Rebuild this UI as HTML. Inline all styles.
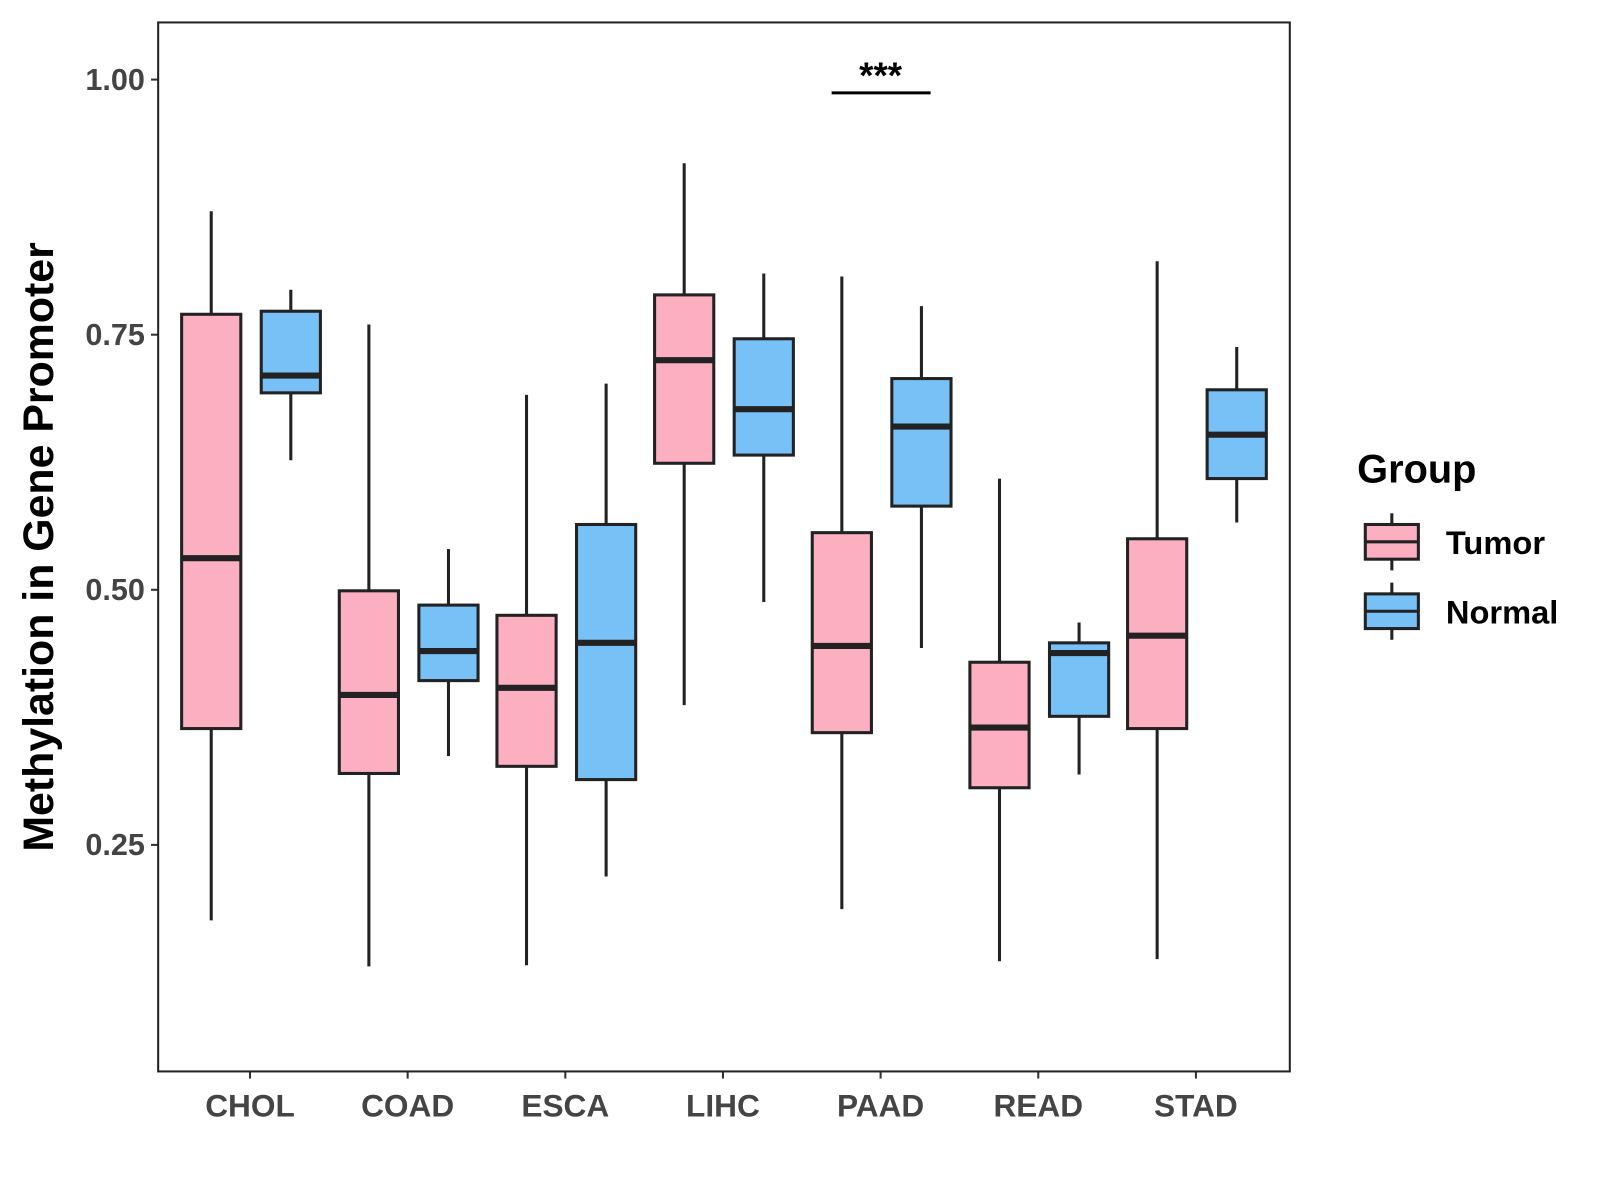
<!DOCTYPE html>
<html><head><meta charset="utf-8"><style>
html,body{margin:0;padding:0;background:#fff}
svg{display:block;font-family:"Liberation Sans",Arial,sans-serif}
</style></head><body>
<svg id="chart" width="1600" height="1200" viewBox="0 0 1568 1176">
<rect x="0" y="0" width="1568" height="1176" fill="#fff"/>
<g id="plot"></g>
<rect x="155" y="22" width="1109" height="1028" fill="none" stroke="#222" stroke-width="2"/>
<text transform="translate(52,536) rotate(-90)" text-anchor="middle" font-size="42" font-weight="bold" fill="#000">Methylation in Gene Promoter</text>
<g>
<line x1="815" y1="91" x2="912" y2="91" stroke="#000" stroke-width="3"/>
<text x="863" y="86" text-anchor="middle" font-size="36" font-weight="bold">***</text>
</g>
<g>
<text x="1330" y="473" font-size="39" font-weight="bold">Group</text>
<g>
<line x1="1364" y1="503" x2="1364" y2="559" stroke="#222" stroke-width="3"/>
<rect x="1338" y="514" width="52" height="34" fill="#FBAFC1" stroke="#222" stroke-width="3"/>
<line x1="1338" y1="531" x2="1390" y2="531" stroke="#222" stroke-width="3"/>
<text x="1417" y="543" font-size="32" font-weight="bold">Tumor</text></g>
<g>
<line x1="1364" y1="571" x2="1364" y2="627" stroke="#222" stroke-width="3"/>
<rect x="1338" y="582" width="52" height="34" fill="#77C1F6" stroke="#222" stroke-width="3"/>
<line x1="1338" y1="599" x2="1390" y2="599" stroke="#222" stroke-width="3"/>
<text x="1417" y="611" font-size="32" font-weight="bold">Normal</text></g>
</g>
</svg>
<script>
const categories=["CHOL","COAD","ESCA","LIHC","PAAD","READ","STAD"];
// [lower whisker, q1, median, q3, upper whisker]
const tumorStats=[[0.176,0.364,0.531,0.770,0.871],[0.131,0.320,0.397,0.499,0.760],[0.132,0.327,0.404,0.475,0.691],[0.387,0.624,0.725,0.789,0.918],[0.187,0.360,0.445,0.556,0.807],[0.136,0.306,0.365,0.429,0.609],[0.138,0.364,0.455,0.550,0.822]];
const normalStats=[[0.627,0.693,0.710,0.773,0.794],[0.337,0.411,0.440,0.485,0.540],[0.219,0.314,0.448,0.564,0.702],[0.488,0.632,0.677,0.746,0.810],[0.443,0.582,0.660,0.707,0.778],[0.319,0.376,0.438,0.448,0.468],[0.566,0.609,0.652,0.696,0.738]];
const yTicks=[0.25,0.5,0.75,1.0];
const yTickLabels=["0.25","0.50","0.75","1.00"];
const NS="http://www.w3.org/2000/svg";
const g=document.getElementById('plot');
function y(v){return 78+(1-v)*1000;}
function x(i){return 245+i*154.5;}
function mk(t,a){const e=document.createElementNS(NS,t);for(const k in a)e.setAttribute(k,a[k]);g.appendChild(e);return e;}
yTicks.forEach((v,i)=>{
 const l=mk('line',{x1:148,x2:155,y1:y(v),y2:y(v),stroke:'#333','stroke-width':2});
 
 
 const t=mk('text',{x:142,y:y(v)+10,'text-anchor':'end','font-size':30,'font-weight':'bold',fill:'#444'});
 t.textContent=yTickLabels[i];
 
 
});
categories.forEach((c,i)=>{
 const l=mk('line',{x1:x(i),x2:x(i),y1:1050,y2:1057,stroke:'#333','stroke-width':2});
 
 
 const t=mk('text',{x:x(i),y:1094,'text-anchor':'middle','font-size':31,'font-weight':'bold',fill:'#444'});
 t.textContent=c;
 
 
});
function box(cx,s,fill,name){
 const w=mk('line',{x1:cx,x2:cx,y1:y(s[0]),y2:y(s[4]),stroke:'#222','stroke-width':3});
 
 
 const r=mk('rect',{x:cx-29,y:y(s[3]),width:58,height:y(s[1])-y(s[3]),fill:fill,stroke:'#222','stroke-width':3});
 
 
 const m=mk('line',{x1:cx-29,x2:cx+29,y1:y(s[2]),y2:y(s[2]),stroke:'#222','stroke-width':6});
 
 
}
categories.forEach((c,i)=>{
 box(x(i)-38,tumorStats[i],'#FBAFC1','tumor-'+c.toLowerCase());
 box(x(i)+40,normalStats[i],'#77C1F6','normal-'+c.toLowerCase());
});
</script>
</body></html>
